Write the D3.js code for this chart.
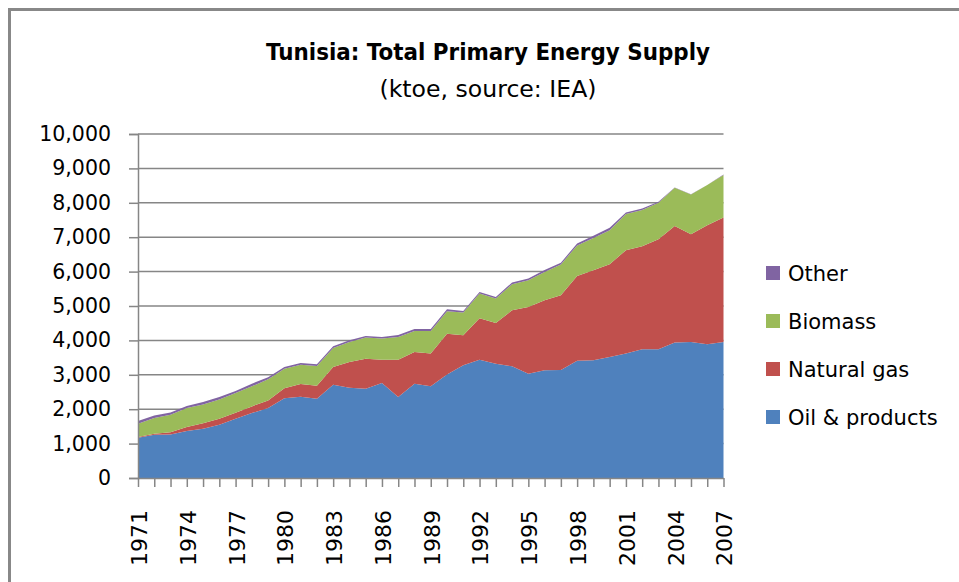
<!DOCTYPE html>
<html>
<head>
<meta charset="utf-8">
<script src="https://cdn.jsdelivr.net/npm/d3@7"></script>
<style>
  html, body { margin: 0; padding: 0; background: #fff; }
  svg { display: block; }
  text { font-family: "DejaVu Sans", Verdana, sans-serif; fill: #000; }
</style>
</head>
<body>
<svg id="chart" width="959" height="582"></svg>
<script>
const years = [1971,1972,1973,1974,1975,1976,1977,1978,1979,1980,1981,1982,1983,1984,1985,1986,1987,1988,1989,1990,1991,1992,1993,1994,1995,1996,1997,1998,1999,2000,2001,2002,2003,2004,2005,2006,2007];
const oil     = [1170,1257,1266,1363,1432,1548,1723,1887,2032,2320,2360,2306,2713,2626,2597,2760,2352,2742,2664,3010,3275,3441,3324,3246,3033,3130,3140,3410,3421,3517,3616,3741,3741,3936,3955,3887,3955];
const gas     = [20,30,67,117,163,175,175,195,224,290,370,374,513,745,873,681,1089,920,952,1180,873,1204,1183,1630,1940,2037,2173,2460,2619,2698,3007,2998,3202,3386,3134,3464,3621];
const biomass = [390,455,507,552,545,562,571,582,614,569,565,575,553,582,611,611,658,612,658,660,664,717,710,757,777,824,897,890,935,990,1048,1049,1057,1115,1155,1164,1231];
const other   = [75,75,67,58,67,67,58,78,60,47,47,49,49,50,47,47,58,58,58,55,45,48,47,49,49,59,50,55,70,68,49,48,30,10,5,5,15];
const seriesNames = ["Oil & products","Natural gas","Biomass","Other"];
const seriesColors = ["#4F81BD","#C0504D","#9BBB59","#8064A2"];
const yTicks = [0,1000,2000,3000,4000,5000,6000,7000,8000,9000,10000];
const xLabelYears = [1971,1974,1977,1980,1983,1986,1989,1992,1995,1998,2001,2004,2007];
const titleLines = ["Tunisia: Total Primary Energy Supply","(ktoe, source: IEA)"];

const rows = years.map((yr,i)=>({year:yr, "Oil & products":oil[i], "Natural gas":gas[i], "Biomass":biomass[i], "Other":other[i]}));

const svg = d3.select("#chart");
const plotL = 138, plotR = 723.5, plotT = 134, plotB = 478;

// outer chart border (only top-left visible)
svg.append("rect").attr("x",9.5).attr("y",9.5).attr("width",1100).attr("height",1100)
  .attr("fill","none").attr("stroke","#888").attr("stroke-width",3);

const xScale = d3.scaleLinear().domain([years[0], years[years.length-1]]).range([plotL,plotR]);
const yScale = d3.scaleLinear().domain([0,10000]).range([plotB,plotT]);

// gridlines
svg.append("g").selectAll("line").data(yTicks.filter(d=>d>0)).join("line")
  .attr("x1",plotL).attr("x2",plotR)
  .attr("y1",d=>yScale(d)).attr("y2",d=>yScale(d))
  .attr("stroke","#868686").attr("stroke-width",1.5);

const stacked = d3.stack().keys(seriesNames)(rows);
const area = d3.area().x(d=>xScale(d.data.year)).y0(d=>yScale(d[0])).y1(d=>yScale(d[1]));
svg.append("g").selectAll("path").data(stacked).join("path")
  .attr("d",area).attr("fill",(d,i)=>seriesColors[i]);

// y axis
const yAxis = d3.axisLeft(yScale).tickValues(yTicks).tickFormat(d3.format(",")).tickSize(9).tickPadding(18);
const gy = svg.append("g").attr("transform",`translate(${plotL},0)`).call(yAxis);
gy.select(".domain").attr("stroke","#868686").attr("stroke-width",1.5);
gy.selectAll(".tick line").attr("stroke","#868686").attr("stroke-width",1.5);
gy.selectAll("text").attr("font-size",20.5).attr("font-family","DejaVu Sans").attr("fill","#000");

// x axis
const xAxis = d3.axisBottom(xScale).tickValues(years).tickFormat("").tickSize(9).tickSizeOuter(0);
const gx = svg.append("g").attr("transform",`translate(0,${plotB})`).call(xAxis);
gx.select(".domain").attr("stroke","#868686").attr("stroke-width",1.5);
gx.selectAll(".tick line").attr("stroke","#868686").attr("stroke-width",1.5);

svg.append("g").selectAll("text").data(xLabelYears).join("text")
  .attr("transform",d=>`translate(${xScale(d)+1},510) rotate(-90)`)
  .attr("text-anchor","end").attr("dy","0.36em")
  .attr("font-size",22).text(d=>d);

// title
svg.append("text").attr("x",488).attr("y",60).attr("text-anchor","middle")
  .attr("font-family","'Open Sans', sans-serif").attr("font-weight","bold").attr("font-size",23)
  .attr("textLength",444).attr("lengthAdjust","spacingAndGlyphs").text(titleLines[0]);
svg.append("text").attr("x",488).attr("y",97).attr("text-anchor","middle")
  .attr("font-family","'Open Sans', sans-serif").attr("font-size",23)
  .attr("textLength",217).attr("lengthAdjust","spacingAndGlyphs").text(titleLines[1]);

// legend
const legendOrder = ["Other","Biomass","Natural gas","Oil & products"];
const lg = svg.append("g").selectAll("g").data(legendOrder).join("g")
  .attr("transform",(d,i)=>`translate(766,${273 + i*48})`);
lg.append("rect").attr("x",0).attr("y",-7).attr("width",14).attr("height",14)
  .attr("fill",d=>seriesColors[seriesNames.indexOf(d)]);
lg.append("text").attr("x",22).attr("dy","0.36em").attr("font-size",21).text(d=>d);
</script>
</body>
</html>
